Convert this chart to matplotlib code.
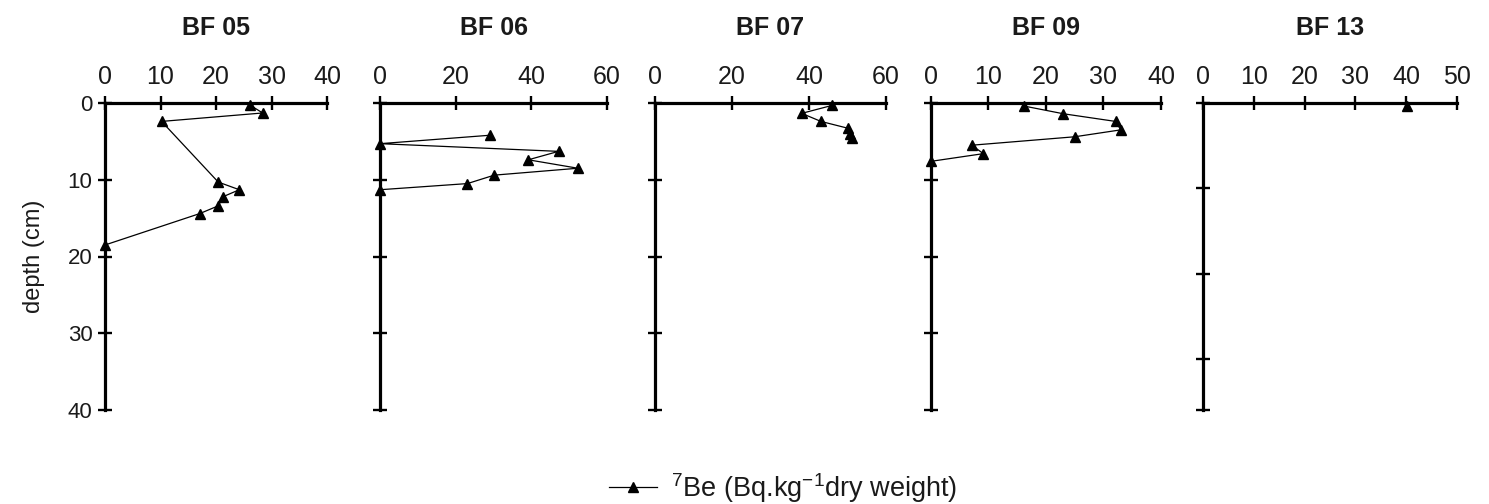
"""
7Be depth profiles for the five BF cores, one panel per core
"""

from matplotlib import pyplot as plt
from matplotlib.lines import Line2D
import numpy as np

plt.rcParams['font.family'] = ['Liberation Sans', 'DejaVu Sans']
plt.rcParams['mathtext.default'] = 'regular'

cores = ['BF 05', 'BF 06', 'BF 07', 'BF 09', 'BF 13']

# activity (Bq/kg) and depth (cm)
bf05_be = [26.2, 28.4, 10.2, 20.4, 24.2, 21.3, 20.4, 17.1, 0.0]
bf05_dep = [0.3, 1.3, 2.4, 10.3, 11.3, 12.2, 13.4, 14.4, 18.5]
bf06_be = [29.1, 0.0, 47.2, 39.2, 52.3, 30.2, 23.1, 0.0]
bf06_dep = [4.2, 5.3, 6.3, 7.4, 8.5, 9.4, 10.5, 11.3]
bf07_be = [46.1, 38.1, 43.1, 50.2, 50.6, 51.1]
bf07_dep = [0.3, 1.35, 2.4, 3.3, 4.0, 4.6]
bf09_be = [16.2, 23.0, 32.1, 33.0, 25.0, 7.1, 9.1, 0.0]
bf09_dep = [0.4, 1.4, 2.4, 3.5, 4.4, 5.5, 6.6, 7.6]
bf13_be = [40.1]
bf13_dep = [0.4]

be = [bf05_be, bf06_be, bf07_be, bf09_be, bf13_be]
dep = [bf05_dep, bf06_dep, bf07_dep, bf09_dep, bf13_dep]

xmax = [40, 60, 60, 40, 50]
xstep = [10, 20, 20, 10, 10]
ymax = [40, 40, 40, 40, 36]

# panel left edge and width in pixels
lefts = [105, 380, 655, 931, 1203]
widths = [222, 227, 231, 230, 254]

W, H = 1489., 504.
fig = plt.figure(figsize=(W/100, H/100), dpi=100)

top_px, bot_px = 103., 410.
txt = '#1a1a1a'
for i in range(5):
    ax = fig.add_axes([lefts[i]/W, 1-bot_px/H, widths[i]/W, (bot_px-top_px)/H])
    ax.plot(be[i], dep[i], color='k', lw=0.9, marker='^', ms=6.5,
            clip_on=False, zorder=5, ls='-' if len(be[i]) > 1 else 'none')
    ax.set_xlim(0, xmax[i])
    ax.set_ylim(ymax[i], 0)
    ax.set_xticks(np.arange(0, xmax[i]+1, xstep[i]))
    yt = list(np.arange(0, ymax[i]+1, 10))
    if ymax[i] not in yt:
        yt.append(ymax[i])
    ax.set_yticks(yt)
    for s in ['bottom', 'right']:
        ax.spines[s].set_visible(False)
    for s in ['top', 'left']:
        ax.spines[s].set_linewidth(2.3)
    ax.xaxis.tick_top()
    ax.tick_params(axis='both', direction='inout', length=10, width=1.7,
                   labelcolor=txt)
    ax.tick_params(axis='x', labelsize=18, pad=5)
    ax.tick_params(axis='y', labelsize=16, pad=4)
    if i > 0:
        ax.tick_params(axis='y', labelleft=False)
    else:
        ax.set_yticklabels([str(int(v)) for v in yt])
        ax.set_ylabel('depth (cm)', fontsize=17, labelpad=16, color=txt)
    ax.text(0.5, 1+75/(bot_px-top_px), cores[i], transform=ax.transAxes,
            ha='center', va='center', fontsize=18, fontweight='bold', color=txt)
    ax.patch.set_visible(False)

h = Line2D([], [], color='k', lw=0.9, marker='^', ms=6.5)
leg = fig.legend([h], [r'$^{7}$Be (Bq.kg$^{-1}$dry weight)'], loc='center',
                 bbox_to_anchor=(783/W, 1-488/H), frameon=False, fontsize=19.5,
                 handlelength=1.8, handletextpad=0.5)
for t in leg.get_texts():
    t.set_color(txt)

fig.savefig('out.png', dpi=100)
